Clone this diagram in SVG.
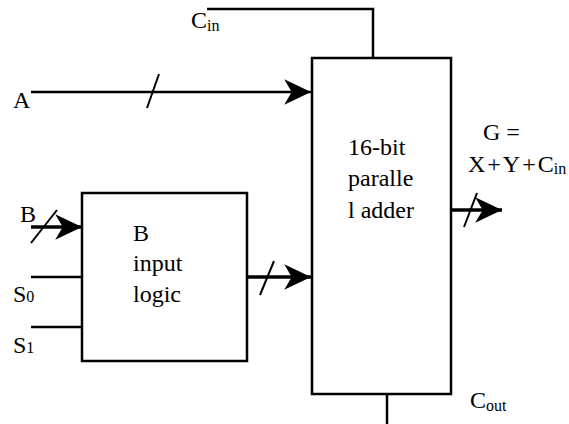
<svg xmlns="http://www.w3.org/2000/svg" width="569" height="424" viewBox="0 0 569 424">
<style>
text{font-size:24px;fill:#000}
.sub{font-size:16px}
.box{fill:#fff;stroke:#000;stroke-width:2.5}
.ln{fill:none;stroke:#000;stroke-width:2.5}
.thick{fill:none;stroke:#000;stroke-width:3.5}
.sl{fill:none;stroke:#000;stroke-width:2}
</style>
<defs>
<marker id="ah" markerUnits="userSpaceOnUse" markerWidth="30" markerHeight="30" viewBox="-26 -13 28 26" refX="0" refY="0" orient="auto">
<path d="M0,0 L-25,-12 L-18,0 L-25,12 Z" fill="#000"/>
</marker>
</defs>
<g id="connectors">
<polyline class="ln" points="207,9 373,9 373,58"/>
<line class="ln" x1="387" y1="394" x2="387" y2="424"/>
<line class="ln" x1="31" y1="92" x2="311" y2="92" marker-end="url(#ah)"/>
<line class="sl" x1="147" y1="108" x2="159" y2="74"/>
<line class="thick" x1="31" y1="227" x2="82" y2="227" marker-end="url(#ah)"/>
<line class="sl" x1="31" y1="243" x2="57" y2="210"/>
<line class="ln" x1="31" y1="277" x2="82" y2="277"/>
<line class="ln" x1="31" y1="327" x2="82" y2="327"/>
<line class="thick" x1="247" y1="277" x2="311" y2="277" marker-end="url(#ah)"/>
<line class="sl" x1="260" y1="295" x2="274" y2="261"/>
<line class="thick" x1="451" y1="210" x2="502" y2="210" marker-end="url(#ah)"/>
<line class="sl" x1="464" y1="227" x2="477" y2="193"/>
</g>
<g id="adder">
<rect class="box" x="312" y="58" width="139" height="336"/>
<text x="348" y="155" font-family="Liberation Serif">16-bit</text>
<text x="348" y="186" font-family="Liberation Serif">paralle</text>
<text x="348" y="218" font-family="Liberation Serif">l adder</text>
</g>
<g id="b-input-logic">
<rect class="box" x="82" y="193" width="165" height="168"/>
<text x="133" y="241" font-family="Liberation Serif">B</text>
<text x="133" y="271" font-family="Liberation Serif">input</text>
<text x="133" y="302" font-family="Liberation Serif">logic</text>
</g>
<g id="labels">
<text x="191" y="28" font-family="Liberation Serif">C<tspan class="sub" dy="3">in</tspan></text>
<text x="13" y="108" font-family="Liberation Serif">A</text>
<text x="20" y="222" font-family="Liberation Serif">B</text>
<text x="13" y="302" font-family="Liberation Serif">S<tspan class="sub">0</tspan></text>
<text x="13" y="353" font-family="Liberation Serif">S<tspan class="sub">1</tspan></text>
<text x="483" y="140" font-family="Liberation Serif">G =</text>
<text x="468" y="172" font-family="Liberation Serif"><tspan letter-spacing="2">X+Y+</tspan>C<tspan class="sub" dy="2">in</tspan></text>
<text x="470" y="408" font-family="Liberation Serif">C<tspan class="sub" dy="3">out</tspan></text>
</g>
</svg>
